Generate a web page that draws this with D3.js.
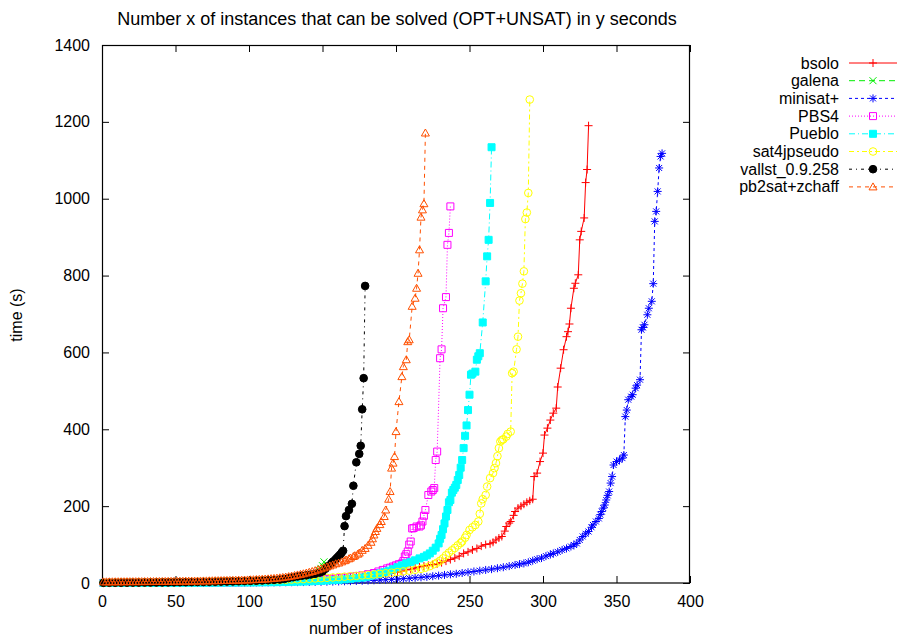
<!DOCTYPE html>
<html>
<head>
<meta charset="utf-8">
<script src="https://cdn.jsdelivr.net/npm/d3@7"></script>
<style>body{margin:0;background:#fff}</style>
</head>
<body>
<svg width="902" height="638"></svg>
<script>
// [instances solved, time in seconds]
const bsolo = [[1,0.4],[5,0.5],[9,0.6],[13,0.7],[17,0.8],[21,0.9],[25,1],[29,1.1],[33,1.2],[37,1.3],[41,1.4],[45,1.5],[49,1.6],[53,1.7],[57,1.8],[61,2],[65,2.1],[69,2.3],[73,2.5],[77,2.7],[81,2.9],[85,3.1],[89,3.3],[93,3.6],[97,3.9],[101,4.2],[105,4.5],[109,4.9],[113,5.3],[117,5.7],[121,6.1],[125,6.6],[129,7.1],[133,7.6],[137,8.2],[141,8.8],[145,9.5],[149,10.2],[153,11],[157,11.8],[161,12.7],[165,13.6],[169,14.6],[173,15.7],[177,16.8],[181,18],[185,19.5],[189,21],[193,23],[197,25],[201,28],[204,30],[207,34],[210,36],[213,39],[216,42],[219,44],[222,46],[225,48],[228,50],[231,53],[234,57],[237,61],[240,65],[243,70],[246,77],[249,81],[252,86],[255,90],[258,96],[261,100],[264,102],[266,106],[268,112],[270,117],[272,121],[274,135],[275,147],[277,156],[278,160],[280,176],[281,186],[283,195],[285,200],[287,205],[289,210],[291,214],[293,218],[294,277],[296,286],[298,316],[300,338],[301,385],[303,403],[305,424],[307,442],[309,455],[310,510],[312,559],[314,607],[316,641],[317,654],[318,674],[319,715],[321,767],[322,780],[324,802],[325,893],[326,915],[328,950],[329,1042],[330,1076],[331,1190]];

const galena = [[1,0.4],[5,0.5],[9,0.5],[13,0.6],[17,0.6],[21,0.7],[25,0.7],[29,0.8],[33,0.8],[37,0.9],[41,1],[45,1],[49,1.1],[53,1.2],[57,1.3],[61,1.4],[65,1.5],[69,1.6],[73,1.7],[77,1.8],[81,2],[85,2.2],[89,2.4],[93,2.6],[97,2.9],[101,3.2],[105,3.6],[109,4],[113,4.5],[117,5.1],[121,5.8],[125,6.8],[129,8],[133,9.5],[137,12],[140,15],[142,18],[144,22],[146,27],[148,33],[149,38],[150,45],[151,55]];

const minisat = [[1,0.1],[5,0.1],[9,0.15],[13,0.15],[17,0.2],[21,0.2],[25,0.25],[29,0.25],[33,0.3],[37,0.3],[41,0.35],[45,0.4],[49,0.4],[53,0.45],[57,0.5],[61,0.5],[65,0.55],[69,0.6],[73,0.65],[77,0.7],[81,0.75],[85,0.8],[89,0.85],[93,0.9],[97,1],[101,1.1],[105,1.2],[109,1.3],[113,1.4],[117,1.5],[121,1.6],[125,1.8],[129,2],[133,2.2],[137,2.4],[141,2.6],[145,2.8],[149,3],[153,3.3],[157,3.6],[161,4],[165,4.4],[169,4.8],[173,5.3],[177,5.8],[181,6.4],[185,7],[189,7.8],[193,8.6],[197,9.4],[201,10.3],[205,11.3],[209,12.4],[213,13.6],[217,14.8],[221,16],[225,17.6],[229,19.2],[233,21],[237,22.5],[241,24],[245,26],[249,28],[253,30],[257,32],[261,34],[265,36],[269,38.5],[273,41],[277,44],[281,47],[284,49],[287,51],[290,54],[293,58],[296,62],[299,65],[302,70],[305,74],[307,77],[310,81],[313,86],[316,90],[319,95],[321,99],[323,103],[325,112],[327,121],[329,128],[331,134],[333,145],[334,151],[336,160],[338,168],[339,178],[340,186],[341,195],[342,203],[343,216],[344,228],[345,238],[346,260],[347,277],[348,307],[350,316],[352,320],[354,325],[355,333],[356,433],[357,450],[358,477],[360,485],[361,490],[363,507],[364,515],[366,529],[367,659],[368,665],[369,672],[371,698],[372,715],[374,733],[375,779],[376,941],[377,967],[378,1019],[379,1080],[380,1110],[381,1118]];

const pbs4 = [[1,0.3],[5,0.3],[9,0.35],[13,0.4],[17,0.4],[21,0.45],[25,0.5],[29,0.5],[33,0.55],[37,0.6],[41,0.65],[45,0.7],[49,0.75],[53,0.8],[57,0.85],[61,0.9],[65,1],[69,1.1],[73,1.2],[77,1.3],[81,1.4],[85,1.5],[89,1.6],[93,1.8],[97,2],[101,2.2],[105,2.4],[109,2.7],[113,3],[117,3.3],[121,3.7],[125,4.1],[129,4.6],[133,5.2],[137,5.9],[141,6.7],[145,7.6],[149,8.6],[153,9.8],[157,11],[161,12.5],[165,14],[169,16],[173,18],[177,20],[181,23],[185,26],[188,30],[191,34],[194,38],[196,40],[198,43],[200,46],[202,49],[204,51],[205,57],[206,69],[207,75],[208,82],[209,100],[210,108],[211,142],[212,143],[214,147],[216,147],[217,150],[218,160],[219,175],[220,190],[222,229],[224,238],[225,242],[226,247],[227,320],[228,342],[230,585],[231,608],[232,715],[234,744],[235,880],[236,911],[237,980]];

const pueblo = [[1,0.05],[5,0.05],[9,0.1],[13,0.1],[17,0.1],[21,0.15],[25,0.15],[29,0.2],[33,0.2],[37,0.25],[41,0.3],[45,0.3],[49,0.35],[53,0.4],[57,0.45],[61,0.5],[65,0.55],[69,0.6],[73,0.65],[77,0.7],[81,0.8],[85,0.9],[89,1],[93,1.1],[97,1.2],[101,1.3],[105,1.5],[109,1.7],[113,1.9],[117,2.1],[121,2.4],[125,2.7],[129,3],[133,3.4],[137,3.8],[141,4.3],[145,4.9],[149,5.6],[153,6.4],[157,7.3],[161,8.3],[165,9.5],[169,11],[173,12.5],[177,14],[180,16],[183,19],[186,22],[189,25],[192,28],[195,32],[198,36],[201,41],[204,46],[207,51],[210,55],[213,59],[216,64],[219,68],[221,72],[223,77],[225,84],[227,92],[229,103],[230,115],[231,125],[232,140],[233,155],[234,173],[235,190],[236,210],[237,216],[238,235],[239,242],[240,248],[241,255],[242,268],[243,281],[244,300],[245,320],[246,351],[247,383],[248,410],[249,450],[250,490],[251,542],[252,545],[254,550],[255,581],[256,590],[257,598],[259,678],[261,785],[262,850],[263,893],[264,989],[265,1134]];

const sat4j = [[1,1],[5,1.1],[9,1.2],[13,1.3],[17,1.4],[21,1.5],[25,1.6],[29,1.7],[33,1.8],[37,1.9],[41,2],[45,2.1],[49,2.2],[53,2.4],[57,2.6],[61,2.8],[65,3],[69,3.2],[73,3.4],[77,3.6],[81,3.9],[85,4.2],[89,4.5],[93,4.8],[97,5.1],[101,5.5],[105,5.9],[109,6.3],[113,6.8],[117,7.3],[121,7.8],[125,8.4],[129,9],[133,9.6],[137,10.3],[141,11],[145,11.8],[149,12.6],[153,13.5],[157,14.4],[161,15.4],[165,16.4],[169,17.5],[173,18.6],[177,19.8],[181,21],[185,22.3],[189,23.7],[193,25.2],[197,26.8],[201,28.5],[205,30.3],[209,32.2],[213,34.5],[217,37],[220,40],[223,44],[226,49],[228,53],[230,58],[232,64],[234,72],[236,79],[238,85],[240,91],[242,98],[244,104],[245,108],[247,118],[248,125],[250,138],[252,145],[254,151],[256,160],[257,180],[258,207],[259,218],[261,229],[262,251],[264,273],[266,286],[267,299],[268,312],[269,330],[270,351],[271,368],[272,372],[273,374],[275,381],[276,388],[278,394],[279,546],[280,550],[282,608],[283,641],[284,735],[285,754],[286,779],[287,811],[288,947],[289,964],[290,1015],[291,1258]];

const vallst = [[1,0.5],[5,0.6],[9,0.7],[13,0.8],[17,0.9],[21,1],[25,1.1],[29,1.2],[33,1.3],[37,1.4],[41,1.5],[45,1.6],[49,1.8],[53,2],[57,2.2],[61,2.4],[65,2.6],[69,2.8],[73,3],[77,3.3],[81,3.6],[85,3.9],[89,4.2],[93,4.6],[97,5],[101,5.5],[105,6],[109,6.6],[113,7.3],[117,8.1],[121,9],[124,10.5],[127,13],[130,15],[133,17],[136,19],[139,20],[142,22],[145,24],[148,27],[150,30],[152,37],[154,44],[156,51],[157,55],[158,58],[159,62],[160,66],[161,70],[162,74],[163,79],[164,84],[165,148],[166,174],[168,190],[170,206],[171,253],[173,314],[175,336],[176,357],[177,452],[178,533],[179,773]];

const pb2sat = [[1,3],[3,3.05],[5,3.1],[7,3.15],[9,3.2],[11,3.25],[13,3.3],[15,3.35],[17,3.4],[19,3.45],[21,3.5],[23,3.55],[25,3.6],[27,3.65],[29,3.7],[31,3.75],[33,3.8],[35,3.85],[37,3.9],[39,3.95],[41,4],[43,4.1],[45,4.2],[47,4.3],[49,4.4],[51,4.5],[53,4.6],[55,4.7],[57,4.8],[59,4.9],[61,5],[63,5.1],[65,5.2],[67,5.3],[69,5.4],[71,5.55],[73,5.7],[75,5.85],[77,6],[79,6.15],[81,6.3],[83,6.45],[85,6.6],[87,6.8],[89,7],[91,7.2],[93,7.4],[95,7.6],[97,7.8],[99,8],[101,8.3],[103,8.6],[105,9],[107,9.4],[109,9.8],[111,10.3],[113,10.8],[115,11.4],[117,12],[119,12.7],[121,13.5],[123,14.5],[125,15.5],[127,16.7],[129,18],[131,19.5],[133,21],[135,22.5],[137,24],[139,26],[141,28],[143,30],[145,32],[147,34.5],[149,37],[151,39.5],[153,42],[155,44.5],[157,47],[159,50],[161,52],[163,55],[165,58],[166,60],[168,63],[169,65],[171,69],[172,71],[174,75],[175,78],[177,85],[179,90],[181,98],[183,106],[184,115],[185,125],[186,134],[187,142],[189,152],[190,160],[192,173],[193,190],[195,218],[196,238],[197,299],[198,312],[199,329],[200,394],[202,472],[204,537],[205,563],[207,581],[208,628],[209,633],[211,720],[213,741],[214,767],[215,806],[216,867],[217,952],[218,971],[219,987],[220,1171]];

const seriesNames = ["bsolo", "galena", "minisat+", "PBS4", "Pueblo", "sat4jpseudo", "vallst_0.9.258", "pb2sat+zchaff"];
const seriesData = [bsolo, galena, minisat, pbs4, pueblo, sat4j, vallst, pb2sat];
const xTicks = [0, 50, 100, 150, 200, 250, 300, 350, 400];
const yTicks = [0, 200, 400, 600, 800, 1000, 1200, 1400];

const colors = ["#ff0000", "#00ee00", "#0000ff", "#ff00ff", "#00ffff", "#ffff00", "#000000", "#ff5000"];
const dashes = [null, "6,4", "3,3", "1,2", "6,3,1,3", "5,3,2,3", "3,4,1,4", "4,4"];
const circ = d3.symbol(d3.symbolCircle, 46)();
const markers = [
  { d: "M-4,0H4M0,-4V4", fill: false },
  { d: "M-3.5,-3.5L3.5,3.5M-3.5,3.5L3.5,-3.5", fill: false },
  { d: "M-4,0H4M0,-4V4M-3,-3L3,3M-3,3L3,-3", fill: false },
  { d: "M-3.5,-3.5H3.5V3.5H-3.5Z", fill: false },
  { d: "M-3.5,-3.5H3.5V3.5H-3.5Z", fill: true },
  { d: circ, fill: false },
  { d: circ, fill: true },
  { d: "M0,-4L4,3L-4,3Z", fill: false }
];

const font = "'Liberation Sans', Arial, Helvetica, sans-serif";
const svg = d3.select("svg");

const x = d3.scaleLinear().domain([0, 400]).range([102, 690]);
const y = d3.scaleLinear().domain([0, 1400]).range([583, 45]);

// axes, ticks pointing inwards and mirrored like gnuplot
const gx = svg.append("g")
    .attr("transform", "translate(0,583)")
    .call(d3.axisBottom(x).tickValues(xTicks).tickFormat(d3.format("d")).tickSizeInner(-7).tickSizeOuter(0).tickPadding(12.5));
const gy = svg.append("g")
    .attr("transform", "translate(102,0)")
    .call(d3.axisLeft(y).tickValues(yTicks).tickFormat(d3.format("d")).tickSizeInner(-7).tickSizeOuter(0).tickPadding(12));
const gt = svg.append("g")
    .attr("transform", "translate(0,45)")
    .call(d3.axisTop(x).tickValues(xTicks).tickSizeInner(-7).tickSizeOuter(0).tickFormat(""));
const gr = svg.append("g")
    .attr("transform", "translate(690,0)")
    .call(d3.axisRight(y).tickValues(yTicks).tickSizeInner(-7).tickSizeOuter(0).tickFormat(""));

[gx, gy, gt, gr].forEach(g => {
  g.select(".domain").remove();
  g.attr("font-family", font).attr("font-size", 16);
  g.selectAll("line").attr("stroke", "#000");
  g.selectAll("text").attr("fill", "#000");
});

svg.append("rect")
    .attr("x", 102.5).attr("y", 45.5)
    .attr("width", 587).attr("height", 537.5)
    .attr("fill", "none").attr("stroke", "#000").attr("stroke-width", 1.2);

const line = d3.line().x(d => x(d[0])).y(d => y(d[1]));

seriesData.forEach((data, i) => {
  const g = svg.append("g");
  g.append("path")
      .datum(data)
      .attr("d", line)
      .attr("fill", "none")
      .attr("stroke", colors[i])
      .attr("stroke-width", 1)
      .attr("stroke-dasharray", dashes[i]);
  g.selectAll("path.pt")
      .data(data)
      .enter()
      .append("path")
      .attr("class", "pt")
      .attr("d", markers[i].d)
      .attr("transform", d => `translate(${x(d[0])},${y(d[1])})`)
      .attr("fill", markers[i].fill ? colors[i] : "none")
      .attr("stroke", colors[i])
      .attr("stroke-width", 1);
});

// legend
const legend = svg.append("g").attr("font-family", font).attr("font-size", 16);
seriesNames.forEach((name, i) => {
  const ry = 63 + i * 17.7;
  legend.append("text")
      .attr("x", 839).attr("y", ry + 5.5)
      .attr("text-anchor", "end")
      .text(name);
  legend.append("line")
      .attr("x1", 849).attr("x2", 897)
      .attr("y1", ry).attr("y2", ry)
      .attr("stroke", colors[i])
      .attr("stroke-dasharray", dashes[i]);
  legend.append("path")
      .attr("d", markers[i].d)
      .attr("transform", `translate(873,${ry})`)
      .attr("fill", markers[i].fill ? colors[i] : "none")
      .attr("stroke", colors[i]);
});

svg.append("text")
    .attr("x", 397).attr("y", 25)
    .attr("text-anchor", "middle")
    .attr("font-family", font).attr("font-size", 18)
    .text("Number x of instances that can be solved (OPT+UNSAT) in y seconds");

svg.append("text")
    .attr("x", 381).attr("y", 634)
    .attr("text-anchor", "middle")
    .attr("font-family", font).attr("font-size", 16)
    .text("number of instances");

svg.append("text")
    .attr("transform", "translate(22,315) rotate(-90)")
    .attr("text-anchor", "middle")
    .attr("font-family", font).attr("font-size", 16)
    .text("time (s)");
</script>
</body>
</html>
